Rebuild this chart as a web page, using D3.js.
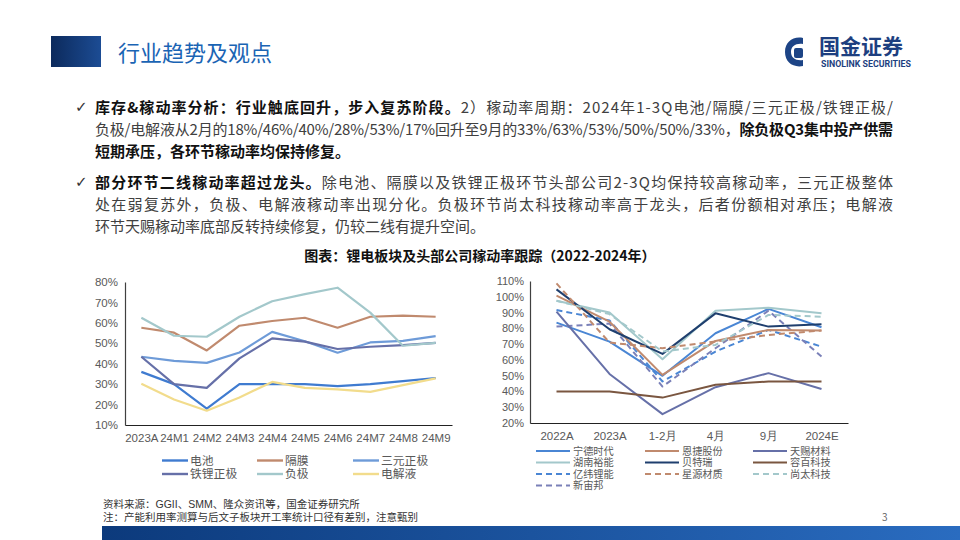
<!DOCTYPE html>
<html><head><meta charset="utf-8">
<script src="https://cdn.jsdelivr.net/npm/d3@7"></script>
<style>
html,body{margin:0;padding:0;background:#fff;}
svg{display:block;font-family:"Noto Sans CJK SC","Noto Sans",sans-serif;}
</style></head>
<body><svg id="c" width="960" height="540"></svg>
<script>
// ---------- data ----------
const leftCats = ["2023A","24M1","24M2","24M3","24M4","24M5","24M6","24M7","24M8","24M9"];
const leftNames = ["电池","隔膜","三元正极","铁锂正极","负极","电解液"];
const batteryVals   = [36,30,18,30,30,30,29,30,31.5,33];
const separatorVals = [57.6,55.2,46.5,58.6,60.9,62.5,57.6,63,63.5,63];
const nmcVals       = [43.4,41.4,40.4,45.5,55.6,51,45.4,50.4,51.2,53.5];
const lfpVals       = [43.4,30,28.2,42.6,52.4,50.8,47.2,48.3,49.1,50.2];
const anodeVals     = [62.5,53.7,53.2,63,70.6,74.1,77.2,65,48.8,50.2];
const electrolyteVals=[30.2,22.5,17,23.5,31.1,28.2,27.4,26.2,29.5,32.8];
const leftTicks = [10,20,30,40,50,60,70,80];

const rightCats = ["2022A","2023A","1-2月","4月","9月","2024E"];
const rightNames = ["宁德时代","湖南裕能","亿纬锂能","新宙邦","恩捷股份","贝特瑞","星源材质","天赐材料","容百科技","尚太科技"];
const catlVals     = [83.6,71.6,49.9,76.9,92.3,80.7];
const yunengVals   = [97.5,90,60.4,91.2,93.1,89.5];
const eveVals      = [91.6,85,46.3,65.3,79,68.4];
const capchemVals  = [81.1,83,43.1,67.4,91.2,62.1];
const semcorpVals  = [100.7,84.2,50.5,72,79,78.6];
const btrVals      = [104.7,79.4,63.8,89.5,81.1,82.6];
const seniorVals   = [108.5,71,67.4,71.6,75.8,78.6];
const tinciVals    = [90.6,51.1,25.6,42.7,51.6,41.5];
const ronbayVals   = [40,40,36.1,44.2,46.3,46.3];
const shangtaiVals = [97.5,89,65.3,69.5,88.5,87.4];
const rightTicks = [20,30,40,50,60,70,80,90,100,110];

// ---------- styles ----------
const leftSeries = [
  {name:leftNames[0], vals:batteryVals, color:"#3f7bd0"},
  {name:leftNames[1], vals:separatorVals, color:"#c08a6e"},
  {name:leftNames[2], vals:nmcVals, color:"#6e9bd8"},
  {name:leftNames[3], vals:lfpVals, color:"#6670a8"},
  {name:leftNames[4], vals:anodeVals, color:"#a3c8cb"},
  {name:leftNames[5], vals:electrolyteVals, color:"#f2dc8c"}
];
const rightSeries = [
  {name:rightNames[0], vals:catlVals, color:"#4a86d4", dash:null},
  {name:rightNames[1], vals:yunengVals, color:"#a3c8cb", dash:null},
  {name:rightNames[2], vals:eveVals, color:"#4a86d4", dash:"6,4"},
  {name:rightNames[3], vals:capchemVals, color:"#7a80b8", dash:"6,4"},
  {name:rightNames[4], vals:semcorpVals, color:"#c08a6e", dash:null},
  {name:rightNames[5], vals:btrVals, color:"#1f3f6e", dash:null},
  {name:rightNames[6], vals:seniorVals, color:"#c08a6e", dash:"6,4"},
  {name:rightNames[7], vals:tinciVals, color:"#6670a8", dash:null},
  {name:rightNames[8], vals:ronbayVals, color:"#7a5640", dash:null},
  {name:rightNames[9], vals:shangtaiVals, color:"#a3c8cb", dash:"6,4"}
];

const svg = d3.select("#c");
const tightFont = "'Liberation Sans','Noto Sans CJK SC',sans-serif";

// ---------- header ----------
const defs = svg.append("defs");
const g1 = defs.append("linearGradient").attr("id","hg").attr("x1","0").attr("x2","1");
g1.append("stop").attr("offset","0").attr("stop-color","#0c2a5c");
g1.append("stop").attr("offset","1").attr("stop-color","#1c4c94");
const g2 = defs.append("linearGradient").attr("id","fg").attr("x1","0").attr("x2","1");
g2.append("stop").attr("offset","0").attr("stop-color","#0c3a7c");
g2.append("stop").attr("offset","1").attr("stop-color","#2a6cc0");

svg.append("rect").attr("x",51).attr("y",36).attr("width",50).attr("height",31).attr("fill","url(#hg)");
svg.append("text").attr("x",118).attr("y",61).attr("font-size",22).attr("fill","#1a64b4").text("行业趋势及观点");

// logo
const lg = svg.append("g").attr("transform","translate(796,52)");
lg.append("path").attr("d","M7,-14 C-3,-16 -11,-10 -11,0 C-11,10 -3,16 7,14 L7,8 C0,9 -5,6 -5,0 C-5,-6 0,-9 7,-8 Z").attr("fill","#1d4486");
lg.append("rect").attr("x",-2).attr("y",-4).attr("width",9).attr("height",10).attr("rx",2).attr("fill","#1d4486");
svg.append("text").attr("x",819).attr("y",53.5).attr("font-size",21).attr("font-weight","bold").attr("font-family",tightFont).attr("fill","#1d3f80").text("国金证券");
svg.append("text").attr("x",821).attr("y",67).attr("font-size",8.8).attr("font-weight","bold").attr("fill","#1d3f80").attr("font-family","Roboto, sans-serif").text("SINOLINK SECURITIES");

// ---------- body text ----------
const bodyLines = [
  {y:113, just:true, parts:[["库存&稼动率分析：行业触底回升，步入复苏阶段。",1],["2）稼动率周期：2024年1-3Q电池/隔膜/三元正极/铁锂正极/",0]]},
  {y:135, just:true, parts:[["负极/电解液从2月的18%/46%/40%/28%/53%/17%回升至9月的33%/63%/53%/50%/50%/33%，",0],["除负极Q3集中投产供需",1]]},
  {y:157, just:false, parts:[["短期承压，各环节稼动率均保持修复。",1]]},
  {y:188, just:true, parts:[["部分环节二线稼动率超过龙头。",1],["除电池、隔膜以及铁锂正极环节头部公司2-3Q均保持较高稼动率，三元正极整体",0]]},
  {y:210, just:true, parts:[["处在弱复苏外，负极、电解液稼动率出现分化。负极环节尚太科技稼动率高于龙头，后者份额相对承压；电解液",0]]},
  {y:232, just:false, parts:[["环节天赐稼动率底部反转持续修复，仍较二线有提升空间。",0]]}
];
bodyLines.forEach(l=>{
  const t = svg.append("text").attr("x",95).attr("y",l.y).attr("font-size",15);
  if(l.just) t.attr("textLength",798).attr("lengthAdjust","spacing");
  l.parts.forEach(p=>{
    t.append("tspan").attr("font-weight",p[1]?"bold":"normal").attr("fill",p[1]?"#111":"#404040").text(p[0]);
  });
});
[113,188].forEach(y=>svg.append("text").attr("x",75).attr("y",y-1).attr("font-size",15).attr("font-family","DejaVu Sans").attr("fill","#333").text("✓"));

// chart title
svg.append("text").attr("x",480).attr("y",261).attr("text-anchor","middle").attr("font-size",14).attr("font-weight","bold").attr("fill","#111").text("图表：锂电板块及头部公司稼动率跟踪（2022-2024年）");

// ---------- left chart ----------
const lx = d3.scalePoint().domain(leftCats).range([125,452]).padding(0.5);
const ly = d3.scaleLinear().domain([10,80]).range([425,282]);
const lYAxis = svg.append("g").attr("transform","translate(125,0)")
  .call(d3.axisLeft(ly).tickValues(leftTicks).tickSize(0).tickPadding(7).tickFormat(d=>d+"%"));
lYAxis.select(".domain").attr("stroke","#404040").attr("stroke-width",1.2);
lYAxis.selectAll("text").attr("font-size",11.5).attr("fill","#595959").attr("font-family","Liberation Sans, Arial, sans-serif");
const lXAxis = svg.append("g").attr("transform","translate(0,425)")
  .call(d3.axisBottom(lx).tickSize(0).tickPadding(9));
lXAxis.select(".domain").attr("stroke","#222").attr("stroke-width",1.2);
lXAxis.selectAll("text").attr("font-size",11.5).attr("fill","#595959").attr("font-family","Liberation Sans, Arial, sans-serif");

const lline = d3.line().x((d,i)=>lx(leftCats[i])).y(d=>ly(d));
svg.append("g").selectAll("path").data(leftSeries).join("path")
  .attr("d",d=>lline(d.vals)).attr("fill","none").attr("stroke",d=>d.color).attr("stroke-width",2.2).attr("stroke-linejoin","round");

// left legend
const llCols=[162,257,353], llRows=[460.5,474];
leftSeries.forEach((s,i)=>{
  const cx = llCols[i%3], cy = llRows[Math.floor(i/3)];
  svg.append("line").attr("x1",cx).attr("x2",cx+26).attr("y1",cy).attr("y2",cy).attr("stroke",s.color).attr("stroke-width",2.4);
  svg.append("text").attr("x",cx+28).attr("y",cy+4.3).attr("font-size",11.8).attr("font-family",tightFont).attr("fill","#595959").text(s.name);
});

// ---------- right chart ----------
const rx = d3.scalePoint().domain(rightCats).range([530,848]).padding(0.5);
const ry = d3.scaleLinear().domain([20,110]).range([423,281]);
const rYAxis = svg.append("g").attr("transform","translate(530,0)")
  .call(d3.axisLeft(ry).tickValues(rightTicks).tickSize(0).tickPadding(6).tickFormat(d=>d+"%"));
rYAxis.select(".domain").attr("stroke","#404040").attr("stroke-width",1.2);
rYAxis.selectAll("text").attr("font-size",11).attr("fill","#595959").attr("font-family","Liberation Sans, Arial, sans-serif");
const rXAxis = svg.append("g").attr("transform","translate(0,423)")
  .call(d3.axisBottom(rx).tickSize(0).tickPadding(9));
rXAxis.select(".domain").attr("stroke","#222").attr("stroke-width",1.2);
rXAxis.selectAll("text").attr("font-size",11.5).attr("fill","#595959");

const rline = d3.line().x((d,i)=>rx(rightCats[i])).y(d=>ry(d));
svg.append("g").selectAll("path").data(rightSeries).join("path")
  .attr("d",d=>rline(d.vals)).attr("fill","none").attr("stroke",d=>d.color).attr("stroke-width",2)
  .attr("stroke-dasharray",d=>d.dash).attr("stroke-linejoin","round");

// right legend
const rlCols=[536,645,753], rlRows=[451,462.5,474,485.5];
const rlLayout=[[0,0],[0,1],[0,2],[0,3],[1,0],[1,1],[1,2],[2,0],[2,1],[2,2]];
rightSeries.forEach((s,i)=>{
  const cx = rlCols[rlLayout[i][0]], cy = rlRows[rlLayout[i][1]];
  svg.append("line").attr("x1",cx).attr("x2",cx+34).attr("y1",cy).attr("y2",cy).attr("stroke",s.color).attr("stroke-width",2.2).attr("stroke-dasharray",s.dash);
  svg.append("text").attr("x",cx+37).attr("y",cy+3.8).attr("font-size",10.2).attr("font-family",tightFont).attr("fill","#595959").text(s.name);
});

// ---------- footer ----------
svg.append("text").attr("x",103).attr("y",508).attr("font-size",10.5).attr("font-family",tightFont).attr("fill","#333").text("资料来源：GGII、SMM、隆众资讯等，国金证券研究所");
svg.append("text").attr("x",103).attr("y",521).attr("font-size",10.5).attr("font-family",tightFont).attr("fill","#333").text("注：产能利用率测算与后文子板块开工率统计口径有差别，注意甄别");
svg.append("text").attr("x",882).attr("y",521).attr("font-size",10).attr("fill","#666").text("3");
svg.append("rect").attr("x",102).attr("y",526).attr("width",858).attr("height",14).attr("fill","url(#fg)");
</script></body></html>
